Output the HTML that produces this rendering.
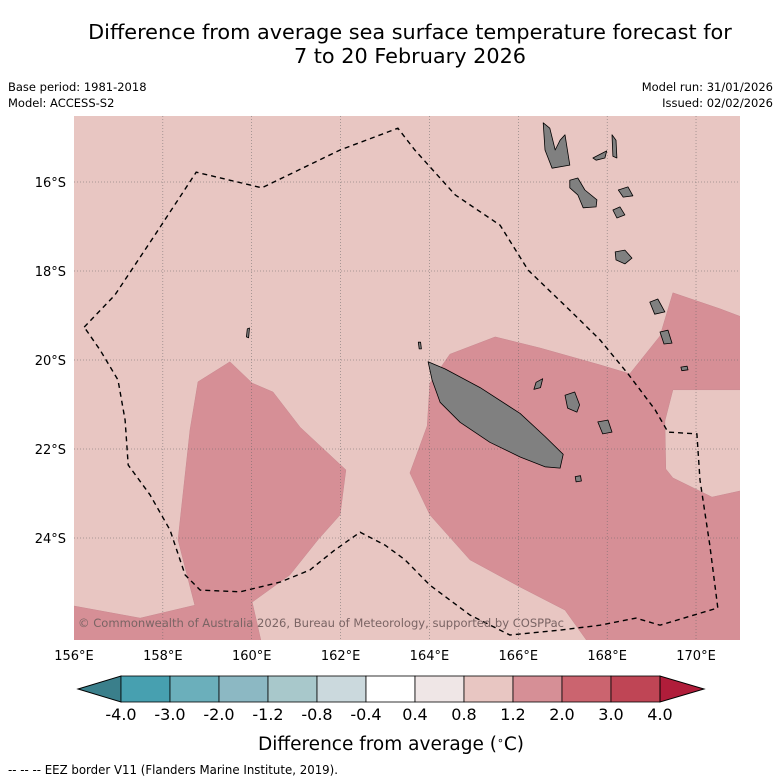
<!DOCTYPE html>
<html><head><meta charset="utf-8"><style>
html,body{margin:0;padding:0;background:#fff;width:781px;height:781px;overflow:hidden}
svg{display:block;font-family:"DejaVu Sans","Liberation Sans",sans-serif}
</style></head><body>
<svg id="chart" width="781" height="781" viewBox="0 0 781 781">
<text x="410" y="39" font-size="20.8" text-anchor="middle">Difference from average sea surface temperature forecast for</text>
<text x="410" y="63" font-size="20.8" text-anchor="middle">7 to 20 February 2026</text>
<text x="8" y="91" font-size="11.5">Base period: 1981-2018</text>
<text x="8" y="107" font-size="11.5">Model: ACCESS-S2</text>
<text x="773" y="91" font-size="11.5" text-anchor="end">Model run: 31/01/2026</text>
<text x="773" y="107" font-size="11.5" text-anchor="end">Issued: 02/02/2026</text>
<defs><clipPath id="mapclip"><rect x="74" y="116" width="666" height="524"/></clipPath></defs>
<g id="map" clip-path="url(#mapclip)">
<rect x="74" y="116" width="666" height="524" fill="#e8c6c2"/>
</g>
<g id="axes"></g>
<text x="78" y="627" font-size="11.7" fill="#7a6464" textLength="486" lengthAdjust="spacingAndGlyphs">© Commonwealth of Australia 2026, Bureau of Meteorology, supported by COSPPac</text>
<g id="cbar"></g>
<text x="391" y="750" font-size="18.5" text-anchor="middle">Difference from average (<tspan baseline-shift="super" font-size="11">∘</tspan>C)</text>
<text x="8" y="774" font-size="12" textLength="330" lengthAdjust="spacingAndGlyphs">--  --  -- EEZ border V11 (Flanders Marine Institute, 2019).</text>
</svg>
<script>
const lonTicks=[156,158,160,162,164,166,168,170];
const latTicks=[16,18,20,22,24];
const warmLeft=[[158.79,20.49],[159.51,20.04],[160.01,20.52],[160.48,20.72],[161.09,21.51],[162.12,22.47],[161.99,23.48],[161.49,24.04],[160.86,24.83],[160.01,25.44],[160.23,26.4],[155.9,26.4],[155.9,25.51],[157.49,25.80],[158.72,25.51],[158.34,24.04],[158.61,21.57]];
const warmRight=[[163.56,22.54],[163.95,21.48],[164.01,20.52],[164.46,19.87],[165.48,19.48],[166.49,19.73],[167.84,20.11],[168.51,20.31],[169.19,19.46],[169.48,18.49],[170.54,18.85],[171.1,19.06],[171.1,20.67],[169.48,20.67],[169.30,21.37],[169.32,22.45],[169.48,22.65],[170.36,23.08],[171.1,22.92],[171.1,26.4],[167.61,26.4],[167.05,25.62],[166.04,25.10],[164.91,24.49],[164.01,23.48]];
const eez=[[156.23,19.26],[156.92,18.54],[157.82,17.19],[158.75,15.78],[160.23,16.13],[161.99,15.28],[163.29,14.79],[163.67,15.28],[164.58,16.29],[165.59,16.97],[166.22,17.98],[167.16,18.88],[167.84,19.55],[168.47,20.31],[169.08,21.12],[169.37,21.62],[170.02,21.66],[170.09,22.70],[170.31,24.16],[170.49,25.57],[169.19,25.96],[168.65,25.80],[167.84,25.96],[166.94,26.07],[165.81,26.18],[164.91,25.73],[164.01,25.06],[163.45,24.49],[163.00,24.16],[162.44,23.87],[161.87,24.27],[161.31,24.72],[160.64,24.99],[159.74,25.21],[158.84,25.17],[158.50,24.83],[158.16,23.82],[157.71,23.03],[157.22,22.36],[157.15,21.35],[156.99,20.45],[156.59,19.78],[156.23,19.26]];
const islands=[
[[163.97,20.04],[164.35,20.20],[165.14,20.62],[166.04,21.20],[166.60,21.72],[167.01,22.12],[166.94,22.43],[166.60,22.40],[166.04,22.18],[165.36,21.85],[164.69,21.40],[164.24,20.95],[164.06,20.45]],
[[166.56,14.67],[166.71,14.79],[166.83,15.28],[166.94,15.06],[167.05,14.94],[167.16,15.62],[166.76,15.69],[166.60,15.28]],
[[167.16,15.96],[167.34,15.91],[167.50,16.18],[167.77,16.40],[167.75,16.56],[167.46,16.58],[167.34,16.29],[167.16,16.13]],
[[168.25,16.18],[168.47,16.11],[168.58,16.31],[168.36,16.34]],
[[168.11,14.94],[168.20,15.06],[168.22,15.46],[168.13,15.42]],
[[167.68,15.46],[167.99,15.30],[167.95,15.46],[167.75,15.51]],
[[168.13,16.63],[168.29,16.56],[168.40,16.74],[168.22,16.81]],
[[168.18,17.57],[168.40,17.53],[168.56,17.71],[168.40,17.84],[168.20,17.75]],
[[168.96,18.70],[169.14,18.63],[169.30,18.92],[169.07,18.97]],
[[169.19,19.37],[169.37,19.33],[169.46,19.62],[169.28,19.64]],
[[169.66,20.16],[169.80,20.14],[169.82,20.22],[169.68,20.24]],
[[167.05,20.79],[167.27,20.72],[167.38,21.01],[167.32,21.17],[167.11,21.08]],
[[167.79,21.39],[168.02,21.35],[168.11,21.62],[167.90,21.66]],
[[167.28,22.62],[167.40,22.60],[167.42,22.72],[167.30,22.74]],
[[166.40,20.50],[166.55,20.42],[166.50,20.62],[166.35,20.66]],
[[163.75,19.60],[163.80,19.60],[163.82,19.75],[163.77,19.75]],
[[159.90,19.30],[159.95,19.28],[159.93,19.50],[159.88,19.48]]
];
const cbLabels=["-4.0","-3.0","-2.0","-1.2","-0.8","-0.4","0.4","0.8","1.2","2.0","3.0","4.0"];
const cbColors=["#47a0b0","#6bafbb","#8cb8c3","#a8c8cb","#cbd9dd","#ffffff","#efe6e6","#e8c6c2","#d68f96","#cb646f","#bf4555"];
const NS="http://www.w3.org/2000/svg";
const X=lon=>74+(lon-156)*44.43;
const Y=lat=>182+(lat-16)*44.5;
function mk(tag,attrs,parent){const e=document.createElementNS(NS,tag);for(const k in attrs)e.setAttribute(k,attrs[k]);parent.appendChild(e);return e;}
const pts=a=>a.map(p=>X(p[0]).toFixed(1)+","+Y(p[1]).toFixed(1)).join(" ");
const map=document.getElementById("map");
[warmLeft,warmRight].forEach((poly,i)=>{
 const e=mk("polygon",{points:pts(poly),fill:"#d68f96",stroke:"#c98890","stroke-width":"0.5"},map);
 
 
});
lonTicks.slice(1).forEach(l=>{const e=mk("line",{x1:X(l),x2:X(l),y1:116,y2:640,stroke:"#666","stroke-width":"0.5","stroke-dasharray":"1,2"},map);
 
 });
latTicks.forEach(l=>{const e=mk("line",{x1:74,x2:740,y1:Y(l),y2:Y(l),stroke:"#666","stroke-width":"0.5","stroke-dasharray":"1,2"},map);
 
 });
islands.forEach(poly=>{const e=mk("polygon",{points:pts(poly),fill:"#808080",stroke:"#000","stroke-width":"0.8","stroke-linejoin":"round"},map);
 
 });
const eezL=mk("polyline",{points:pts(eez),fill:"none",stroke:"#000","stroke-width":"1.4","stroke-dasharray":"5,4"},map);


const ax=document.getElementById("axes");
lonTicks.forEach(l=>{const t=mk("text",{x:X(l),y:660,"font-size":"13","text-anchor":"middle"},ax);t.textContent=l+"°E";
 
 });
latTicks.forEach(l=>{const t=mk("text",{x:66,y:Y(l)+5,"font-size":"13","text-anchor":"end"},ax);t.textContent=l+"°S";
 
 });
const cb=document.getElementById("cbar");
const cx0=121,cw=49,cy=676,ch=26;
const la=mk("polygon",{points:`${cx0},${cy} ${cx0},${cy+ch} 78,${cy+ch/2}`,fill:"#3a7f8b",stroke:"#000","stroke-width":"1"},cb);


cbColors.forEach((c,i)=>{const r=mk("rect",{x:cx0+i*cw,y:cy,width:cw,height:ch,fill:c,stroke:"#000","stroke-width":"0.8"},cb);
 
 });
const xe=cx0+cbColors.length*cw;
const ra=mk("polygon",{points:`${xe},${cy} ${xe},${cy+ch} 704,${cy+ch/2}`,fill:"#b01d3a",stroke:"#000","stroke-width":"1"},cb);


cbLabels.forEach((s,i)=>{const t=mk("text",{x:cx0+i*cw,y:720,"font-size":"16","text-anchor":"middle"},cb);t.textContent=s;
 
 });
</script>
</body></html>
